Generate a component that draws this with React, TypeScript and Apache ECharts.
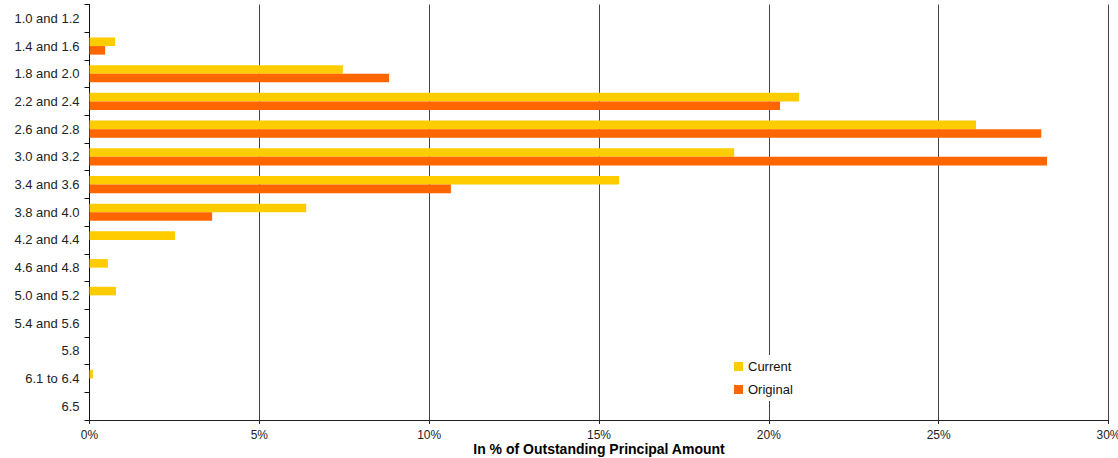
import React, { useEffect, useRef } from "react";
import * as echarts from "echarts";

// Coupon buckets, listed top to bottom
const categories = [
  "1.0 and 1.2",
  "1.4 and 1.6",
  "1.8 and 2.0",
  "2.2 and 2.4",
  "2.6 and 2.8",
  "3.0 and 3.2",
  "3.4 and 3.6",
  "3.8 and 4.0",
  "4.2 and 4.4",
  "4.6 and 4.8",
  "5.0 and 5.2",
  "5.4 and 5.6",
  "5.8",
  "6.1 to 6.4",
  "6.5",
];

// Share of outstanding principal, in percent
const currentValues = [0, 0.75, 7.46, 20.89, 26.1, 18.98, 15.59, 6.38, 2.52, 0.54, 0.78, 0, 0, 0.1, 0];
const originalValues = [0, 0.46, 8.82, 20.33, 28.02, 28.19, 10.64, 3.61, 0, 0, 0, 0, 0, 0, 0];

const xTicks = [0, 5, 10, 15, 20, 25, 30];

const FONT = "'Liberation Sans', Arial, sans-serif";

export default function App() {
  const ref = useRef<HTMLDivElement>(null);

  useEffect(() => {
    if (!ref.current) return;
    const chart = echarts.init(ref.current, undefined, { renderer: "svg" });
    chart.setOption({
      animation: false,
      backgroundColor: "#ffffff",
      textStyle: { fontFamily: FONT },
      grid: {
        left: 89.5,
        right: 9.5,
        top: 4.5,
        bottom: 38,
        containLabel: false,
        outerBoundsMode: "none",
      },
      legend: {
        orient: "vertical",
        left: 729,
        top: 355,
        padding: 5,
        backgroundColor: "#ffffff",
        itemWidth: 9,
        itemHeight: 9,
        itemGap: 10,
        icon: "rect",
        textStyle: { fontFamily: FONT, fontSize: 13, color: "#111" },
        data: ["Current", "Original"],
      },
      xAxis: {
        type: "value",
        min: xTicks[0],
        max: xTicks[xTicks.length - 1],
        interval: 5,
        name: "In % of Outstanding Principal Amount",
        nameLocation: "middle",
        nameGap: 29,
        nameMoveOverlap: false,
        nameTextStyle: {
          fontFamily: FONT,
          fontSize: 14,
          lineHeight: 12,
          fontWeight: "bold",
          color: "#000",
          verticalAlign: "middle",
        },
        axisLine: { show: true, lineStyle: { color: "#222", width: 1 } },
        axisTick: { show: true, length: 4, lineStyle: { color: "#222" } },
        axisLabel: {
          fontFamily: FONT,
          fontSize: 12,
          lineHeight: 12,
          color: "#222",
          margin: 9,
          hideOverlap: false,
          formatter: (v: number) => `${v}%`,
        },
        splitLine: { show: true, lineStyle: { color: "#444", width: 1 } },
      },
      yAxis: {
        type: "category",
        inverse: true,
        data: categories,
        axisLine: { show: true, lineStyle: { color: "#111", width: 1 } },
        axisTick: { show: true, length: 5, lineStyle: { color: "#111" } },
        axisLabel: { fontFamily: FONT, fontSize: 13, color: "#222", margin: 10, interval: 0 },
      },
      series: [
        {
          name: "Current",
          type: "bar",
          data: currentValues,
          barGap: "0%",
          barCategoryGap: "38%",
          itemStyle: { color: "#FFCC00" },
        },
        {
          name: "Original",
          type: "bar",
          data: originalValues,
          barGap: "0%",
          barCategoryGap: "38%",
          itemStyle: { color: "#FF6600" },
        },
      ],
    });
    return () => chart.dispose();
  }, []);

  return (
    <div
      ref={ref}
      style={{ position: "fixed", left: 0, top: 0, width: 1118, height: 458, background: "#fff" }}
    />
  );
}
